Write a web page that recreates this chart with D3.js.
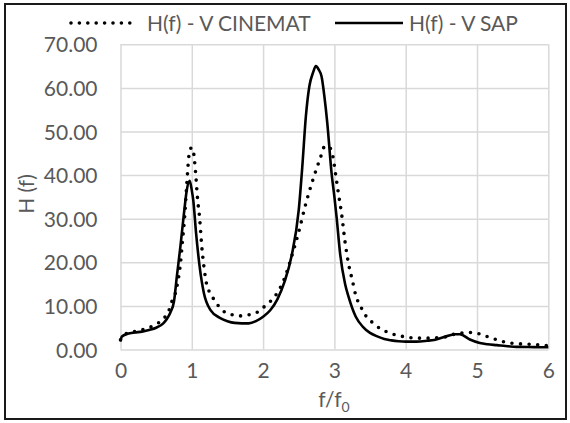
<!DOCTYPE html>
<html><head><meta charset="utf-8">
<script src="https://cdn.jsdelivr.net/npm/d3@7"></script>
<style>body{margin:0;background:#fff}</style>
</head><body><svg id="c" width="570" height="423"></svg>
<script>
const xTicks = [0, 1, 2, 3, 4, 5, 6];
const yTicks = [0, 10, 20, 30, 40, 50, 60, 70];
const seriesNames = ["H(f) - V CINEMAT", "H(f) - V SAP"];

const fCinemat = [0, 0.05, 0.1, 0.2, 0.3, 0.4, 0.5, 0.6, 0.68, 0.72, 0.77, 0.8, 0.84, 0.87, 0.9, 0.93, 0.96, 0.98, 1.0, 1.02, 1.05, 1.08, 1.11, 1.14, 1.17, 1.21, 1.26, 1.33, 1.42, 1.54, 1.67, 1.77, 1.9, 2.0, 2.1, 2.2, 2.3, 2.4, 2.5, 2.6, 2.7, 2.8, 2.87, 2.93, 2.98, 3.02, 3.06, 3.1, 3.15, 3.2, 3.25, 3.3, 3.37, 3.45, 3.55, 3.65, 3.76, 3.89, 4.0, 4.15, 4.3, 4.45, 4.57, 4.7, 4.82, 4.95, 5.08, 5.21, 5.34, 5.46, 5.6, 5.75, 5.9, 6.0];
const hCinemat = [2.2, 3.3, 3.8, 4.1, 4.5, 5.0, 5.8, 7.0, 9.0, 11.0, 12.9, 15.2, 19.6, 25.0, 30.5, 38.0, 44.5, 46.0, 46.3, 45.6, 41.2, 34.7, 30.1, 23.6, 19.0, 14.8, 12.9, 11.0, 9.1, 8.1, 7.7, 7.9, 8.4, 9.6, 11.0, 13.0, 16.3, 21.3, 27.0, 33.5, 39.0, 43.8, 46.7, 46.4, 44.2, 39.8, 35.4, 31.2, 24.6, 19.5, 16.0, 12.4, 9.8, 7.5, 6.0, 4.7, 3.9, 3.2, 2.9, 2.6, 2.6, 2.7, 2.9, 3.6, 3.8, 3.9, 3.3, 2.6, 1.9, 1.5, 1.3, 1.2, 1.0, 0.9];

const fSap = [0, 0.02, 0.1, 0.2, 0.3, 0.4, 0.5, 0.6, 0.65, 0.7, 0.75, 0.79, 0.84, 0.89, 0.93, 0.97, 1.0, 1.02, 1.06, 1.11, 1.17, 1.26, 1.4, 1.5, 1.6, 1.7, 1.8, 1.9, 2.0, 2.1, 2.2, 2.3, 2.4, 2.5, 2.55, 2.6, 2.65, 2.7, 2.74, 2.78, 2.82, 2.86, 2.9, 2.96, 3.0, 3.03, 3.08, 3.15, 3.2, 3.3, 3.4, 3.5, 3.6, 3.7, 3.8, 3.9, 4.0, 4.15, 4.3, 4.4, 4.55, 4.69, 4.76, 4.9, 5.04, 5.15, 5.28, 5.4, 5.56, 5.8, 6.0];
const hSap = [1.9, 3.0, 3.6, 3.9, 4.1, 4.5, 5.0, 6.0, 7.0, 8.5, 11.0, 16.7, 23.6, 31.2, 36.6, 38.7, 36.5, 34.3, 26.7, 19.0, 12.9, 9.1, 7.2, 6.5, 6.1, 6.0, 6.0, 6.5, 7.5, 9.0, 11.5, 15.5, 21.5, 32.0, 42.0, 53.5, 60.5, 63.5, 65.0, 64.2, 62.6, 58.0, 52.0, 40.5, 35.0, 30.5, 22.0, 15.0, 12.0, 7.5, 5.2, 3.8, 3.0, 2.4, 2.1, 1.9, 1.8, 1.8, 2.0, 2.2, 2.9, 3.5, 3.5, 2.3, 1.5, 1.2, 1.0, 0.8, 0.6, 0.55, 0.5];

const svg = d3.select("#c");
const FONT = "Lato, 'Open Sans', sans-serif";
const TXT = "#595959";

// outer border
svg.append("rect").attr("x", 5).attr("y", 4).attr("width", 561).attr("height", 415)
  .attr("fill", "#fff").attr("stroke", "#1a1a1a").attr("stroke-width", 2);

const x = d3.scaleLinear().domain([0, 6]).range([120.5, 548.3]);
const y = d3.scaleLinear().domain([0, 70]).range([349.5, 44.3]);

// gridlines via axes
const gx = svg.append("g").attr("transform", `translate(0,${y(0)})`)
  .call(d3.axisBottom(x).tickValues(xTicks).tickSize(-(y(0) - y(70))).tickFormat(d3.format("d")).tickPadding(14));
const gy = svg.append("g").attr("transform", `translate(${x(0)},0)`)
  .call(d3.axisLeft(y).tickValues(yTicks).tickSize(-(x(6) - x(0))).tickFormat(d3.format(".2f")).tickPadding(23));
[gx, gy].forEach(g => {
  g.select(".domain").remove();
  g.selectAll(".tick line").attr("stroke", "#d9d9d9").attr("stroke-width", 1.5);
  g.selectAll(".tick text").attr("fill", TXT).style("font-family", FONT).style("font-size", "21px");
});
gy.selectAll(".tick text").attr("dy", "0.36em");
gx.selectAll(".tick text").attr("dy", "0.71em");

// series
const dCin = fCinemat.map((f, i) => [f, hCinemat[i]]);
const dSap = fSap.map((f, i) => [f, hSap[i]]);
const line = d3.line().x(d => x(d[0])).y(d => y(d[1])).curve(d3.curveMonotoneX);

svg.append("path").attr("d", line(dSap)).attr("fill", "none")
  .attr("stroke", "#000").attr("stroke-width", 2.6).attr("stroke-linejoin", "round");
svg.append("path").attr("d", line(dCin)).attr("fill", "none")
  .attr("stroke", "#000").attr("stroke-width", 3.6).attr("stroke-linecap", "round")
  .attr("stroke-dasharray", "0 8.6");

// axis titles
svg.append("text").attr("transform", "translate(34,194) rotate(-90)")
  .attr("text-anchor", "middle").attr("fill", TXT).style("font-family", FONT).style("font-size", "21px")
  .text("H (f)");
const xt = svg.append("text").attr("x", 334).attr("y", 407).attr("text-anchor", "middle")
  .attr("fill", TXT).style("font-family", FONT).style("font-size", "21px");
xt.append("tspan").text("f/f");
xt.append("tspan").attr("dy", 5).style("font-size", "14px").text("0");

// legend
const lg = svg.append("g");
lg.append("line").attr("x1", 71).attr("x2", 130).attr("y1", 23).attr("y2", 23)
  .attr("stroke", "#000").attr("stroke-width", 3.6).attr("stroke-linecap", "round").attr("stroke-dasharray", "0 8.4");
lg.append("text").attr("x", 147).attr("y", 30.5).attr("fill", TXT).style("font-family", FONT).style("font-size", "21px").text(seriesNames[0]);
lg.append("line").attr("x1", 335).attr("x2", 403).attr("y1", 23).attr("y2", 23)
  .attr("stroke", "#000").attr("stroke-width", 2.6);
lg.append("text").attr("x", 409).attr("y", 30.5).attr("fill", TXT).style("font-family", FONT).style("font-size", "21px").text(seriesNames[1]);
</script>
</body></html>
